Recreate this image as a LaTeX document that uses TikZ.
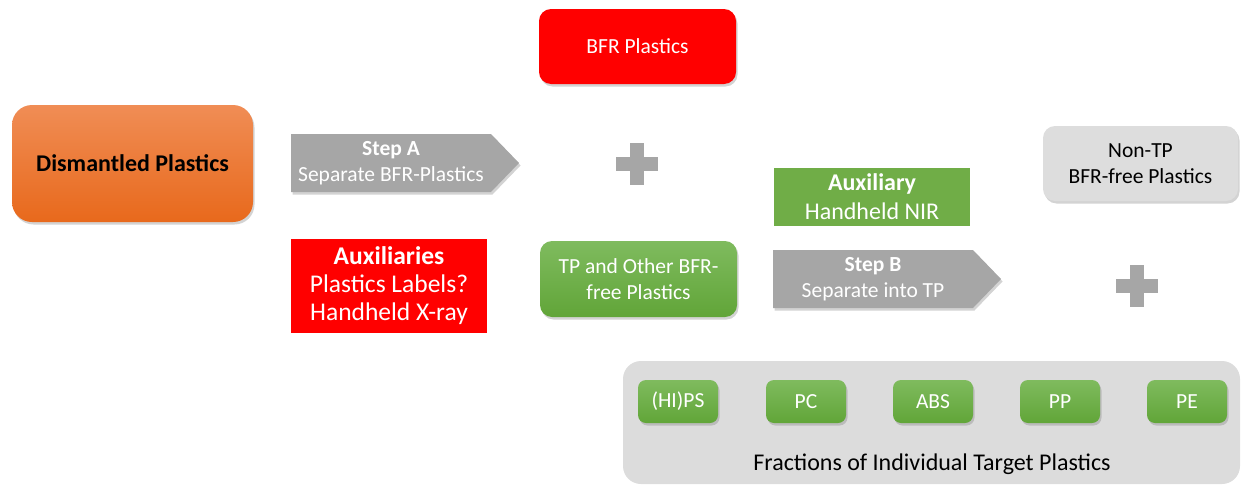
\documentclass[tikz,border=0pt]{standalone}
\usepackage{fontspec}
\setmainfont{Carlito}
\usetikzlibrary{shapes.arrows,shadows}
\definecolor{bfrred}{HTML}{FF0000}
\definecolor{stepgrey}{HTML}{A6A6A6}
\definecolor{panelgrey}{HTML}{DCDCDC}
\definecolor{nongrey}{HTML}{DDDDDD}
\definecolor{auxgreen}{HTML}{70AD47}
\definecolor{greentop}{HTML}{7FBB5E}
\definecolor{greenbot}{HTML}{61A538}
\definecolor{orangetop}{HTML}{F08D55}
\definecolor{orangebot}{HTML}{E8691C}

\begin{document}
\begin{tikzpicture}[x=1pt,y=-1pt,
  txt/.style={font=\fontsize{21.5}{26}\selectfont,align=center},
  bigtxt/.style={font=\fontsize{24}{29}\selectfont,align=center},
  shade/.style={drop shadow={opacity=0.35,shadow xshift=1.5pt,shadow yshift=-2.5pt}},
  box/.style={txt,shade,rounded corners=12,minimum width=197,minimum height=75,inner sep=2pt,text=white},
  greenbox/.style={box,top color=greentop,bottom color=greenbot},
  auxbox/.style={bigtxt,text=white,inner sep=2pt,minimum width=196},
  steparrow/.style={txt,shade,single arrow,single arrow head extend=0pt,single arrow tip angle=92,
    fill=stepgrey,text=white,minimum height=228,minimum width=58,inner sep=1pt},
  frac/.style={greenbox,rounded corners=8,minimum width=80,minimum height=43}]
  \useasboundingbox (0,0) rectangle (1243,485);

  % left part
  \node[box,rounded corners=20,minimum width=241,minimum height=117,text=black,
    top color=orangetop,bottom color=orangebot,font=\fontsize{24}{29}\selectfont\bfseries]
    (dism) at (132.5,163.5) {Dismantled Plastics};
  \node[steparrow] (stepA) at (391,163) {\textbf{Step A}\\Separate BFR-Plastics};
  \node[auxbox,fill=bfrred,minimum height=94,font=\fontsize{25.5}{28}\selectfont] (auxA) at (389,286)
    {\textbf{Auxiliaries}\\Plastics Labels?\\Handheld X-ray};

  % middle column
  \node[box,fill=bfrred] (bfr) at (637.5,46.5) {BFR Plastics};
  \node[greenbox,minimum height=76] (tpo) at (638.5,279) {TP and Other BFR-\\free Plastics};

  % right part
  \node[auxbox,fill=auxgreen,minimum height=58] (auxB) at (872,197) {\textbf{Auxiliary}\\Handheld NIR};
  \node[steparrow] (stepB) at (873,279) {\textbf{Step B}\\Separate into TP};
  \node[box,fill=nongrey,minimum width=195,text=black] (nontp) at (1140.5,163.5) {Non-TP\\BFR-free Plastics};

  % plus signs
  \foreach \px/\py in {637/163.5,1137/286}
  {
    \fill[stepgrey] (\px-7,\py-21) rectangle (\px+7,\py+21);
    \fill[stepgrey] (\px-21,\py-7) rectangle (\px+21,\py+7);
  }

  % target plastics
  \node[fill=panelgrey,rounded corners=18,minimum width=617,minimum height=123] (panel) at (931.5,422.5) {};
  \node[bigtxt] (panellabel) at (932,464) {Fractions of Individual Target Plastics};
  \foreach \fx/\name/\label in {678/hips/(HI)PS,806/pc/PC,933/abs/ABS,1060/pp/PP,1187/pe/PE}
    \node[frac] (\name) at (\fx,401.5) {\label};
\end{tikzpicture}
\end{document}
